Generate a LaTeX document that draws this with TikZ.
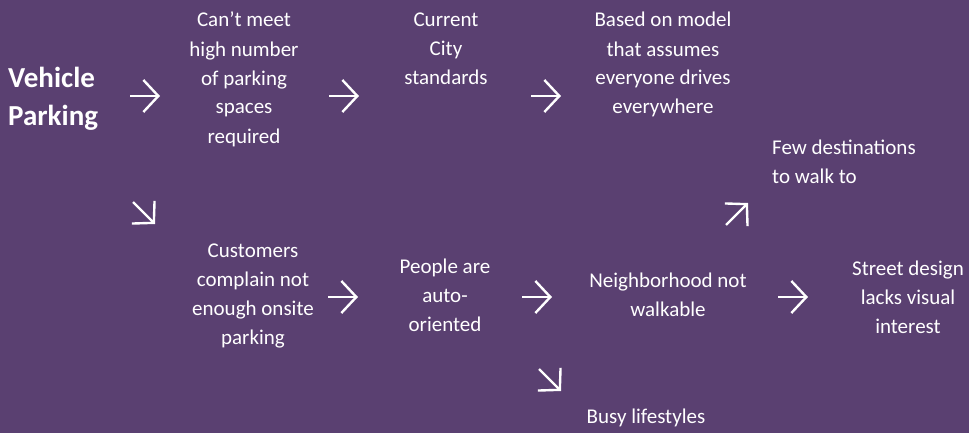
\documentclass[tikz,border=0pt]{standalone}
\usepackage{fontspec}
\setmainfont{Carlito}
\usetikzlibrary{arrows.meta}
\definecolor{bg}{RGB}{90,64,113}
\begin{document}
\begin{tikzpicture}[x=1pt,y=-1pt,
  txt/.style={text=white, font=\fontsize{21}{29}\selectfont, align=center, inner sep=0pt, anchor=base},
  ttl/.style={text=white, font=\bfseries\fontsize{29}{38}\selectfont, align=left, inner sep=0pt, anchor=base west},
  arr/.style={white, line width=2.4pt, -{Straight Barb[length=15pt,width=32pt]}}]
\fill[bg] (0,0) rectangle (969,433);
\useasboundingbox (0,0) rectangle (969,433);
% title (anchor = baseline of last line)
\node[ttl] (vp) at (8,126) {Vehicle\\Parking};
% top row
\node[txt] (meet) at (244,143) {Can’t meet\\high number\\of parking\\spaces\\required};
\node[txt] (std) at (446,85) {Current\\City\\standards};
\node[txt] (model) at (663,114) {Based on model\\that assumes\\everyone drives\\everywhere};
\node[txt, align=left, anchor=base west] (few) at (772,183) {Few destinations\\to walk to};
% bottom row
\node[txt] (cust) at (253,344) {Customers\\complain not\\enough onsite\\parking};
\node[txt] (auto) at (445,331) {People are\\auto-\\oriented};
\node[txt] (walk) at (668,316) {Neighborhood not\\walkable};
\node[txt] (street) at (908,333) {Street design\\lacks visual\\interest};
\node[txt] (busy) at (646,423) {Busy lifestyles};
% arrow end points
\coordinate (a1s) at (130,96);  \coordinate (a1e) at (160,96);
\coordinate (a2s) at (329,96);  \coordinate (a2e) at (359,96);
\coordinate (a3s) at (531,96);  \coordinate (a3e) at (561,96);
\coordinate (d1s) at (133,202); \coordinate (d1e) at (155,224);
\coordinate (u1s) at (726,225); \coordinate (u1e) at (748,203);
\coordinate (b1s) at (328,297); \coordinate (b1e) at (358,297);
\coordinate (b2s) at (522,297); \coordinate (b2e) at (552,297);
\coordinate (b3s) at (778,297); \coordinate (b3e) at (808,297);
\coordinate (d2s) at (539,369); \coordinate (d2e) at (561,391);
\draw[arr] (a1s) -- (a1e);
\draw[arr] (a2s) -- (a2e);
\draw[arr] (a3s) -- (a3e);
\draw[arr] (d1s) -- (d1e);
\draw[arr] (u1s) -- (u1e);
\draw[arr] (b1s) -- (b1e);
\draw[arr] (b2s) -- (b2e);
\draw[arr] (b3s) -- (b3e);
\draw[arr] (d2s) -- (d2e);
\end{tikzpicture}
\end{document}
